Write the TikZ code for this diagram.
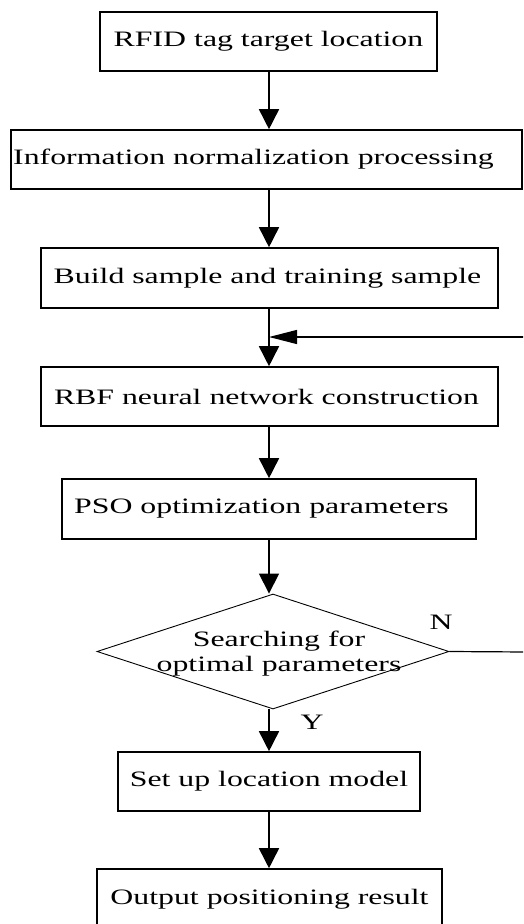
\documentclass[tikz,border=0pt]{standalone}
\usepackage{fontspec}
\usepackage{graphicx}
\setmainfont{Liberation Serif}
\usetikzlibrary{shapes.geometric,arrows.meta}
\newcommand{\wtxt}[1]{\scalebox{1.446}[1]{#1}}
\begin{document}
\begin{tikzpicture}[x=1pt,y=-1pt,
  box/.style={draw,line width=1.6pt,inner sep=0pt,font=\fontsize{22}{25}\selectfont},
  dec/.style={draw,diamond,line width=0.9pt,inner sep=0pt,aspect=3.06,minimum width=352pt,minimum height=115pt},
  arr/.style={line width=1.6pt,-{Triangle[length=20pt,width=20pt]}},
  farr/.style={line width=1.2pt,-{Triangle[length=28pt,width=14pt]}},
  lbl/.style={font=\fontsize{22}{25}\selectfont,inner sep=0pt}]
\useasboundingbox (0,0) rectangle (523,924);
\clip (0,0) rectangle (523,924);
\fill[white] (0,0) rectangle (523,924);
\node[box,minimum width=337pt,minimum height=59pt] (n1) at (268.5,41.5) {\wtxt{RFID tag target location}};
\node[box,minimum width=511pt,minimum height=59pt] (n2) at (266.5,159.5) {\wtxt{Information normalization processing}\hspace*{26pt}};
\node[box,minimum width=457pt,minimum height=60pt] (n3) at (269.5,278) {\wtxt{Build sample and training sample}\hspace*{4pt}};
\node[box,minimum width=457pt,minimum height=59pt] (n4) at (269.5,396.5) {\wtxt{RBF neural network construction}\hspace*{6pt}};
\node[box,minimum width=414pt,minimum height=60pt] (n5) at (269,509) {\wtxt{PSO optimization parameters}\hspace*{15pt}};
\node[dec] (d) at (273,651.5) {};
\node[lbl] (dt) at (279,654) {\wtxt{\begin{tabular}{@{}c@{}}Searching for\\optimal parameters\end{tabular}}};
\node[box,minimum width=302pt,minimum height=59pt] (n6) at (269,781.5) {\wtxt{Set up location model}};
\node[box,minimum width=345pt,minimum height=60pt] (n7) at (269.5,899) {\wtxt{Output positioning result}};
\node[lbl] (N) at (441,622) {\wtxt{N}};
\node[lbl] (Y) at (312,722) {\wtxt{Y}};
\coordinate (ra) at (527,652);
\coordinate (rb) at (527,337);
\coordinate (j) at (269,337);
\draw[arr] (269,71) coordinate (a1) -- (a1 |- n2.north);
\draw[arr] (269,189) coordinate (a2) -- (a2 |- n3.north);
\draw[arr] (269,308) coordinate (a3) -- (a3 |- n4.north);
\draw[arr] (269,426) coordinate (a4) -- (a4 |- n5.north);
\draw[arr] (269,539) coordinate (a5) -- (a5 |- d.north);
\draw[arr] (269,709) coordinate (a6) -- (a6 |- n6.north);
\draw[arr] (269,811) coordinate (a7) -- (a7 |- n7.north);
\draw[line width=1.2pt] (d.east) -- (ra) -- (rb);
\draw[farr] (rb) -- (j);
\end{tikzpicture}
\end{document}
